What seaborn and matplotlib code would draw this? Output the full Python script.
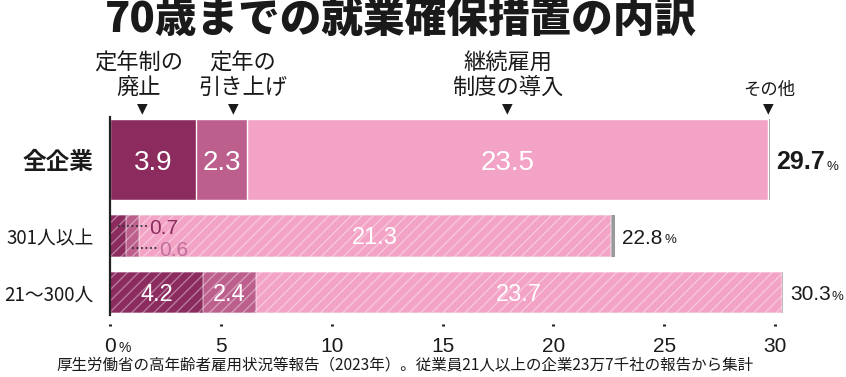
import numpy as np
import pandas as pd
import matplotlib.pyplot as plt
import seaborn as sns

sns.set_theme(style="white")

# data
categories = ['全企業', '301人以上', '21〜300人']
abolish = [3.9, 0.7, 4.2]        # 定年制の廃止
raise_age = [2.3, 0.6, 2.4]      # 定年の引き上げ
continued = [23.5, 21.3, 23.7]   # 継続雇用制度の導入
other = [0.05, 0.2, 0.05]        # その他 (thin sliver)
totals = [29.7, 22.8, 30.3]
ticks = [0, 5, 10, 15, 20, 25, 30]
headers = [['定年制の', '廃止'], ['定年の', '引き上げ'], ['継続雇用', '制度の導入'], ['その他']]

JP = ['Noto Sans CJK JP', 'DejaVu Sans']
NUM = ['Liberation Sans', 'DejaVu Sans']
plt.rcParams['font.family'] = JP
plt.rcParams['hatch.linewidth'] = 1.0

dark, mid, light, grey = '#8B2B5E', '#BC5F8D', '#F3A3C5', '#9A9A9A'
colors = [dark, mid, light, grey]
ink = '#1a1a1a'

# layout (y axis runs in pixel-like units, top = 117, bottom = 326)
row_y = [159.5, 236, 292.5]
row_h = [81, 42, 41]

fig = plt.figure(figsize=(8.46, 3.77), dpi=100)
ax = fig.add_axes([110 / 846, 1 - 326 / 377, 676.2 / 846, 209 / 377])

segs = np.array([abolish, raise_age, continued, other])
cum = segs.cumsum(axis=0)
starts = cum - segs

# stacked bars: draw cumulative totals from the longest down
for k in range(3, -1, -1):
    n0 = len(ax.patches)
    sns.barplot(x=cum[k], y=row_y, orient='h', native_scale=True, color=colors[k],
                saturation=1, errorbar=None, ax=ax)
    for i, p in enumerate(ax.patches[n0:]):
        p.set_y(row_y[i] - row_h[i] / 2)
        p.set_height(row_h[i])
        if k == 3:
            p.set_edgecolor('none')
        elif i == 0:
            p.set_edgecolor('white')
            p.set_linewidth(1)
        else:
            p.set_hatch('///')
            p.set_edgecolor((1, 1, 1, 0.38))
            p.set_linewidth(1.2)

ax.set_xlim(0, 30.5)
ax.set_ylim(326, 117)

ax.set_xticks(ticks)
ax.set_xticklabels([str(t) for t in ticks], fontsize=15, family=NUM, color=ink)
ax.set_yticks(row_y)
ax.set_yticklabels(categories, color=ink)
for i, lab in enumerate(ax.get_yticklabels()):
    lab.set_fontsize(17 if i == 0 else 13.5)
    lab.set_fontweight('bold' if i == 0 else 'normal')

ax.tick_params(axis='x', bottom=True, direction='in', length=1.6, width=2.2,
               color='#222', pad=8)
ax.tick_params(axis='y', left=False, pad=6)
for s in ['top', 'right', 'bottom']:
    ax.spines[s].set_visible(False)
ax.spines['left'].set_bounds(117, 315)
ax.spines['left'].set_linewidth(1.6)
ax.spines['left'].set_color('#222')
ax.set_xlabel('')
ax.set_ylabel('')

ax.annotate('%', xy=(0, 348), xytext=(6, 0), textcoords='offset points',
            fontsize=10, va='center', ha='left', color=ink, family=NUM,
            annotation_clip=False)

# values inside the bars
for i in range(3):
    for k in range(3):
        if i == 1 and k < 2:
            continue
        ax.text(starts[k, i] + segs[k, i] / 2, row_y[i], f'{segs[k, i]:.1f}',
                ha='center', va='center_baseline', color='white',
                fontsize=20 if i == 0 else 17, family=NUM)

# small values of the 301人以上 row with dotted leaders
lead_y = [226, 248]
lead_col = [dark, '#C0709A']
for k in range(2):
    x0 = starts[k, 1] + segs[k, 1] / 2
    x1 = [1.67, 2.12][k]
    ax.plot([x0, x1], [lead_y[k], lead_y[k]], ls=(0, (1, 1.5)), color='#333', lw=1.3)
    ax.text(x1 + 0.09, lead_y[k], f'{segs[k, 1]:.1f}', ha='left', va='center_baseline',
            color=lead_col[k], fontsize=15, family=NUM)

# totals
for i in range(3):
    t = ax.annotate(f'{totals[i]:.1f}', xy=(cum[3, i], row_y[i]), xytext=(5, 0),
                    textcoords='offset points', ha='left', va='center_baseline',
                    fontsize=18 if i == 0 else 15,
                    fontweight='bold' if i == 0 else 'normal',
                    family=NUM, color=ink)
    ax.annotate('%', xy=(1, 0), xycoords=t, xytext=(1, 1), textcoords='offset points',
                ha='left', va='bottom', fontsize=9.5, color=ink, family=NUM)

# column headers with arrows
header_x = [1.29, 6.0, 17.95, 29.75]
arrow_x = [1.47, 5.55, 17.9, 29.7]
for j, lines in enumerate(headers):
    if len(lines) == 2:
        ax.text(header_x[j], 63, lines[0], ha='center', va='center', fontsize=16, color=ink)
        ax.text(header_x[j], 87, lines[1], ha='center', va='center', fontsize=16, color=ink)
    else:
        ax.text(header_x[j], 90, lines[0], ha='center', va='center', fontsize=12.5, color=ink)
    ax.text(arrow_x[j], 108, '▼', ha='center', va='center', fontsize=10,
            family='DejaVu Sans', color=ink)

fig.text(401 / 846, 1 - 21 / 377, '70歳までの就業確保措置の内訳', ha='center', va='center',
         fontsize=30, fontweight='heavy', color=ink)
fig.text(405 / 846, 1 - 366 / 377,
         '厚生労働省の高年齢者雇用状況等報告（2023年）。従業員21人以上の企業23万7千社の報告から集計',
         ha='center', va='center', fontsize=11.2, color=ink)

fig.savefig('out.png', dpi=100)
